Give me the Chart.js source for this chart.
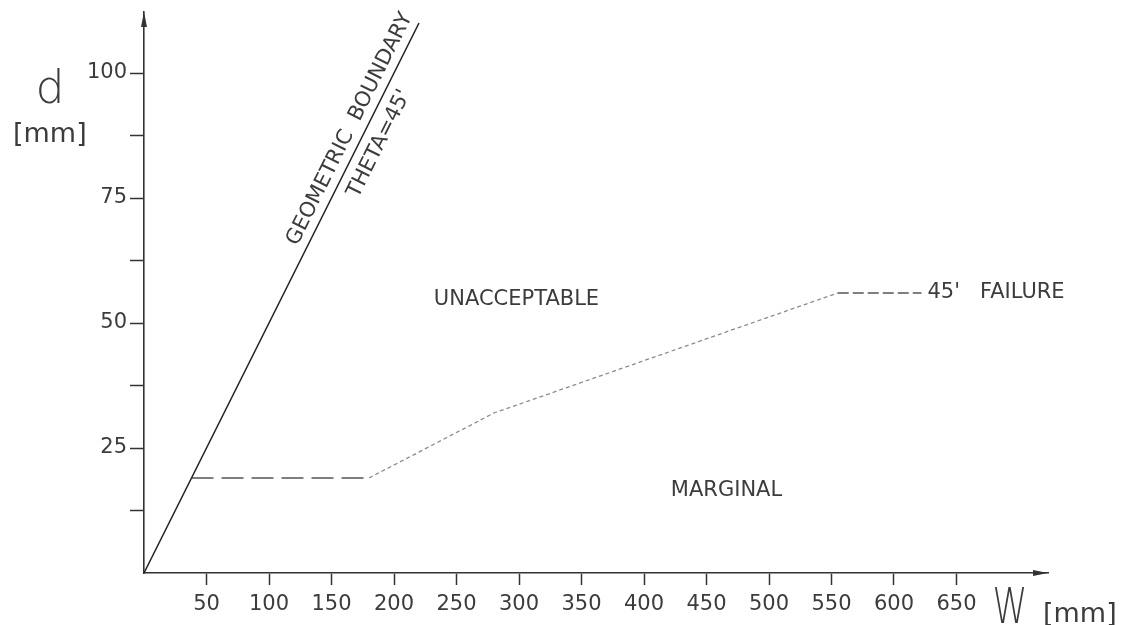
<!DOCTYPE html>
<html>
<head>
<meta charset="utf-8">
<title>Failure zones: d versus W</title>
<script src="https://cdn.jsdelivr.net/npm/chart.js@4.4.1/dist/chart.umd.min.js"></script>
<style>
  html, body { margin: 0; padding: 0; background: #ffffff; }
  #wrap { width: 1124px; height: 625px; }
</style>
</head>
<body>
<div id="wrap"><canvas id="chart" width="1124" height="625"></canvas></div>
<script>
// Geometric boundary, theta = 45 deg: d = W / 2
const boundaryW = [0, 220];
const boundaryD = [0, 110];

// Limit between marginal and unacceptable joints
const limitW = [38, 180, 280, 555, 622];
const limitD = [19, 19, 32, 56, 56];

// Axis ticks
const wTicks = [50, 100, 150, 200, 250, 300, 350, 400, 450, 500, 550, 600, 650];
const dTicks = [12.5, 25, 37.5, 50, 62.5, 75, 87.5, 100];
const dLabelled = [25, 50, 75, 100];

// Text written on the drawing
const regionLabels = [
  { text: 'UNACCEPTABLE', w: 298, d: 54.6 },
  { text: 'MARGINAL', w: 466, d: 16.4 }
];
const failureLabel = "45'   FAILURE";
const boundaryLabelAbove = 'GEOMETRIC  BOUNDARY';
const boundaryLabelBelow = "THETA=45'";
const boundaryLabelAt = 175;   // W where the boundary captions are centred

const INK = '#333333';
const TEXT = '#3c3c3c';
const FONT = "'DejaVu Sans', 'Liberation Sans', sans-serif";

const toPoints = (xs, ys) => xs.map((x, i) => ({ x: x, y: ys[i] }));

// dash pattern and colour of each piece of the limit line
const limitDash = [[22, 8], [4, 3], [4, 3], [11, 4]];
const limitColor = ['#555555', '#8c8c8c', '#8c8c8c', '#555555'];

const drawingPlugin = {
  id: 'drawing',
  afterDraw(chart) {
    const ctx = chart.ctx;
    const a = chart.chartArea;
    const xs = chart.scales.x, ys = chart.scales.y;
    ctx.save();

    // arrow heads on both axes
    ctx.fillStyle = INK;
    ctx.beginPath();
    ctx.moveTo(a.left, a.top);
    ctx.lineTo(a.left - 3, a.top + 15);
    ctx.lineTo(a.left + 3, a.top + 15);
    ctx.closePath();
    ctx.fill();
    ctx.beginPath();
    ctx.moveTo(a.right, a.bottom);
    ctx.lineTo(a.right - 15, a.bottom - 3);
    ctx.lineTo(a.right - 15, a.bottom + 3);
    ctx.closePath();
    ctx.fill();

    // region names
    ctx.fillStyle = TEXT;
    ctx.font = '21px ' + FONT;
    ctx.textAlign = 'center';
    ctx.textBaseline = 'middle';
    regionLabels.forEach(l => {
      ctx.fillText(l.text, xs.getPixelForValue(l.w), ys.getPixelForValue(l.d));
    });

    // caption at the end of the limit line
    const n = limitW.length - 1;
    ctx.textAlign = 'left';
    ctx.fillText(failureLabel, xs.getPixelForValue(limitW[n]) + 6, ys.getPixelForValue(limitD[n]));

    // captions written along the geometric boundary
    const x0 = xs.getPixelForValue(boundaryW[0]), y0 = ys.getPixelForValue(boundaryD[0]);
    const x1 = xs.getPixelForValue(boundaryW[1]), y1 = ys.getPixelForValue(boundaryD[1]);
    const ang = Math.atan2(y1 - y0, x1 - x0);
    const cx = xs.getPixelForValue(boundaryLabelAt);
    const cy = ys.getPixelForValue(boundaryLabelAt * boundaryD[1] / boundaryW[1]);
    ctx.save();
    ctx.translate(cx, cy);
    ctx.rotate(ang);
    ctx.textAlign = 'center';
    ctx.textBaseline = 'alphabetic';
    ctx.fillText(boundaryLabelAbove, 0, -9);
    ctx.fillText(boundaryLabelBelow, 0, 24);
    ctx.restore();

    // axis names
    ctx.font = '200 46px ' + FONT;
    ctx.textAlign = 'center';
    ctx.textBaseline = 'alphabetic';
    ctx.fillText('d', a.left - 94, ys.getPixelForValue(100) + 30);
    ctx.save();
    ctx.translate(a.right - 38, a.bottom + 50);
    ctx.scale(0.72, 1);
    ctx.font = '200 49px ' + FONT;
    ctx.fillText('W', 0, 0);
    ctx.restore();
    ctx.font = '27px ' + FONT;
    ctx.textAlign = 'left';
    ctx.fillText('[mm]', a.left - 131, ys.getPixelForValue(100) + 69);
    ctx.fillText('[mm]', a.right - 5, a.bottom + 49);

    ctx.restore();
  }
};

new Chart(document.getElementById('chart'), {
  type: 'scatter',
  data: {
    datasets: [
      {
        label: 'Geometric boundary',
        data: toPoints(boundaryW, boundaryD),
        showLine: true,
        borderColor: '#222222',
        borderWidth: 1.6,
        pointRadius: 0,
        clip: false
      },
      {
        label: 'Limit',
        data: toPoints(limitW, limitD),
        showLine: true,
        borderColor: '#555555',
        borderWidth: 1.3,
        pointRadius: 0,
        segment: {
          borderDash: ctx => limitDash[ctx.p0DataIndex],
          borderColor: ctx => limitColor[ctx.p0DataIndex]
        }
      }
    ]
  },
  options: {
    responsive: false,
    animation: false,
    events: [],
    layout: { padding: { left: 0, top: 12, right: 76, bottom: 0 } },
    plugins: { legend: { display: false }, tooltip: { enabled: false } },
    scales: {
      x: {
        type: 'linear',
        min: 0,
        max: 723.2,
        afterBuildTicks: s => { s.ticks = wTicks.map(v => ({ value: v })); },
        afterFit: s => { s.height = 52; s.paddingLeft = 0; s.paddingRight = 0; },
        border: { display: true, color: INK, width: 1.6 },
        grid: { display: true, drawOnChartArea: false, drawTicks: true, tickLength: 12, tickColor: INK, tickWidth: 1.5 },
        ticks: {
          autoSkip: false,
          maxRotation: 0,
          padding: 7,
          color: TEXT,
          font: { family: FONT, size: 21 },
          callback: v => String(v)
        }
      },
      y: {
        type: 'linear',
        min: 0,
        max: 112.2,
        afterBuildTicks: s => { s.ticks = dTicks.map(v => ({ value: v })); },
        afterFit: s => { s.width = 144; s.paddingTop = 0; s.paddingBottom = 0; },
        border: { display: true, color: INK, width: 1.6 },
        grid: { display: true, drawOnChartArea: false, drawTicks: true, tickLength: 14, tickColor: INK, tickWidth: 1.5 },
        ticks: {
          autoSkip: false,
          padding: 3,
          color: TEXT,
          font: { family: FONT, size: 21 },
          callback: v => (dLabelled.includes(v) ? String(v) : '')
        }
      }
    }
  },
  plugins: [drawingPlugin]
});
</script>
</body>
</html>
